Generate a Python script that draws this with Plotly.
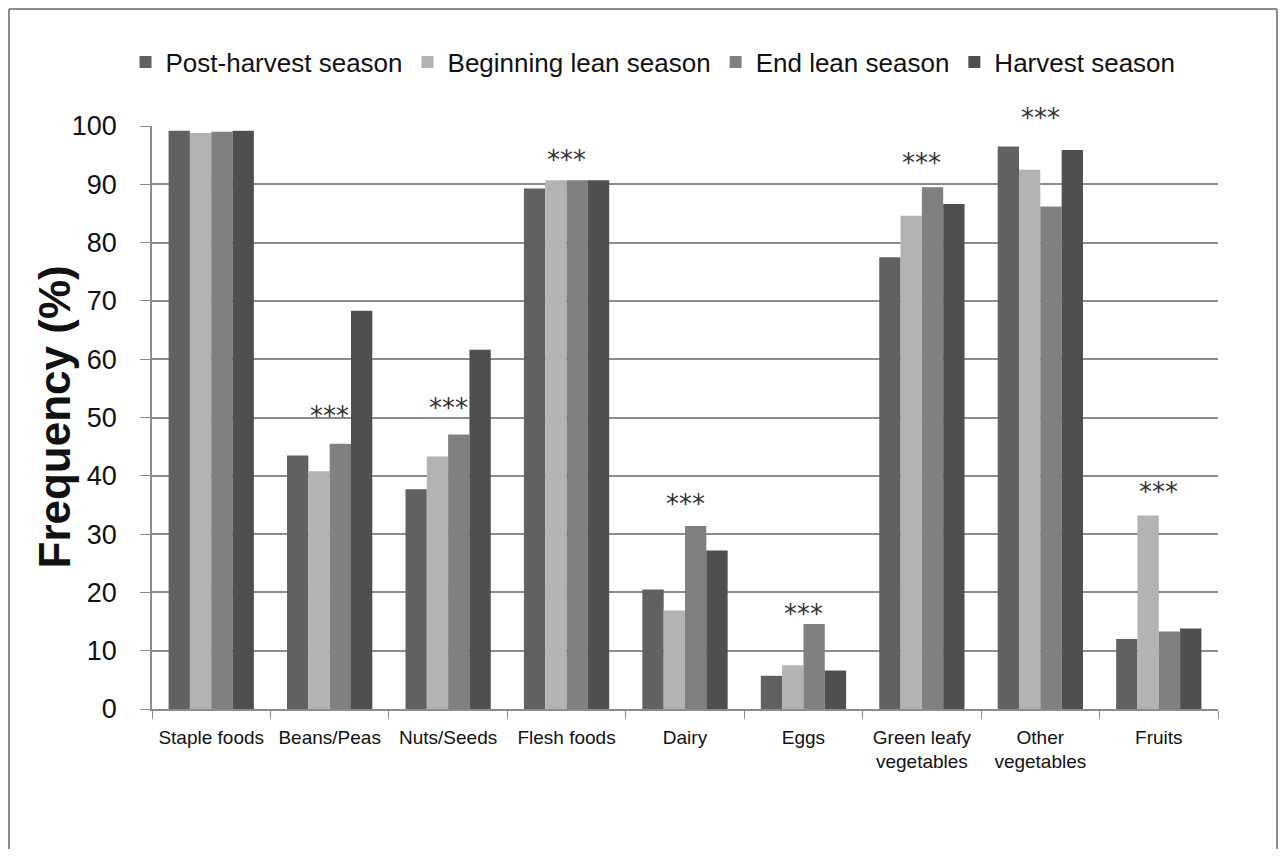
import plotly.graph_objects as go

categories = ["Staple foods", "Beans/Peas", "Nuts/Seeds", "Flesh foods", "Dairy",
              "Eggs", "Green leafy<br>vegetables", "Other<br>vegetables", "Fruits"]
series_names = ["Post-harvest season", "Beginning lean season", "End lean season", "Harvest season"]
post_harvest = [99.2, 43.5, 37.7, 89.3, 20.5, 5.7, 77.5, 96.5, 12.0]
beginning_lean = [98.8, 40.8, 43.3, 90.7, 16.9, 7.5, 84.6, 92.5, 33.2]
end_lean = [99.0, 45.5, 47.1, 90.7, 31.4, 14.6, 89.5, 86.2, 13.3]
harvest = [99.2, 68.3, 61.6, 90.7, 27.2, 6.6, 86.6, 95.9, 13.8]
# significance markers (*** = p<0.001) and the height at which they are printed
sig_labels = ["", "***", "***", "***", "***", "***", "***", "***", "***"]
sig_level = [None, 50.8, 52.1, 94.6, 35.6, 16.8, 94.2, 101.9, 37.7]
y_ticks = [0, 10, 20, 30, 40, 50, 60, 70, 80, 90, 100]
y_range = [0, 100]

colors = ["#616161", "#b3b3b3", "#808080", "#4f4f4f"]
values = [post_harvest, beginning_lean, end_lean, harvest]

fig = go.Figure()
for name, vals, col in zip(series_names, values, colors):
    fig.add_trace(go.Bar(x=categories, y=vals, name=name,
                         marker=dict(color=col, line=dict(width=0))))

# page body has an 8px margin, so figure coords = screen coords - 8;
# the figure is made 16px smaller so it fits inside the window
OFF = 8
W, H = 1286 - 2 * OFF, 857 - 2 * OFF
L, R, T, B = 152 - OFF, W - (1218 - OFF), 126 - OFF, H - (709 - OFF)
pw, ph = W - L - R, H - T - B
def px(xs):
    return (xs - OFF - L) / pw
def py(ys):
    return (H - B - (ys - OFF)) / ph

annotations = []
for cat, lab, lvl in zip(categories, sig_labels, sig_level):
    if lab and lvl is not None:
        annotations.append(dict(x=cat, y=(lvl - y_range[0]) / (y_range[1] - y_range[0]),
                                xref="x", yref="paper", text=lab,
                                showarrow=False, yanchor="middle", yshift=-3,
                                font=dict(family="DejaVu Sans", size=26, color="#333333")))
annotations.append(dict(x=px(54), y=0.5, xref="paper", yref="paper", text="<b>Frequency (%)</b>",
                        textangle=-90, showarrow=False, xanchor="center", yanchor="middle",
                        font=dict(size=44, color="#111111")))

# outer chart frame (open at the bottom where the picture is cut)
fx0, fx1, fy_top, fy_bot = px(9), px(1277), py(OFF + 1), py(OFF + H)
frame_line = dict(color="#8c8c8c", width=2)
shapes = [
    dict(type="line", xref="paper", yref="paper", x0=fx0, x1=fx0, y0=fy_bot, y1=fy_top, line=frame_line, layer="below"),
    dict(type="line", xref="paper", yref="paper", x0=fx1, x1=fx1, y0=fy_bot, y1=fy_top, line=frame_line, layer="below"),
    dict(type="line", xref="paper", yref="paper", x0=fx0, x1=fx1, y0=fy_top, y1=fy_top, line=frame_line, layer="below"),
]

fig.update_layout(
    width=W, height=H,
    margin=dict(l=L, r=R, t=T, b=B, pad=0),
    paper_bgcolor="white", plot_bgcolor="white",
    barmode="group", bargap=0.28, bargroupgap=0,
    font=dict(family="Liberation Sans, Arial, sans-serif", color="#111111"),
    legend=dict(orientation="h", x=0.47, xanchor="center", y=py(62), yanchor="middle",
                font=dict(size=26, color="#111111"), itemwidth=30,
                bgcolor="rgba(0,0,0,0)", traceorder="normal"),
    annotations=annotations,
    shapes=shapes,
    xaxis=dict(showline=True, linecolor="#8c8c8c", linewidth=1.5,
               ticks="outside", tickson="boundaries", ticklen=8, tickcolor="#8c8c8c",
               ticklabelstandoff=10,
               tickfont=dict(size=19, color="#111111"), showgrid=False),
    yaxis=dict(range=y_range, tickvals=y_ticks, showline=True, linecolor="#8c8c8c", linewidth=1.5,
               ticks="outside", ticklen=10, tickcolor="#8c8c8c", ticklabelstandoff=18,
               tickfont=dict(size=27, color="#111111"),
               showgrid=True, gridcolor="#8c8c8c", gridwidth=1.5, zeroline=False),
)

fig.write_html("out.html")
